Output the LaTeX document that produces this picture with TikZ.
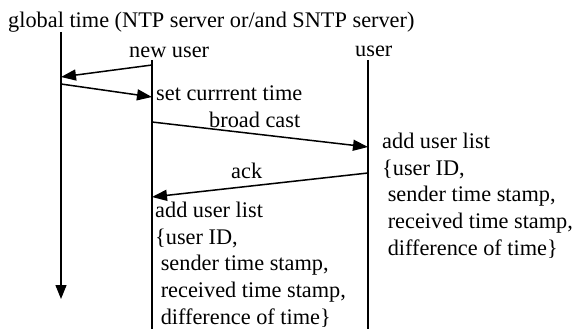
\documentclass[tikz,border=0pt]{standalone}
\usepackage{fontspec}
\setmainfont{Liberation Serif}
\usetikzlibrary{arrows.meta}

\tikzset{
	lbl/.style={inner sep=0pt, anchor=base west},
	block/.style={inner sep=0pt, anchor=north west, align=left},
	lifeline/.style={line width=1.2pt},
	msg/.style={line width=1.5pt, -{Triangle[length=15pt, width=11pt]}}
}

\begin{document}
\begin{tikzpicture}[x=1pt, y=-1pt, font=\fontsize{22.3}{26.6}\selectfont]
		\useasboundingbox (0,0) rectangle (576,329);
		% heads
		\node[lbl] (gt) at (8,28) {global time (NTP server or/and SNTP server)};
		\node[lbl] (nu) at (129,58) {new user};
		\node[lbl] (us) at (355,57) {user};
		% lifelines
		\coordinate (gtTop) at (61,32);
		\coordinate (gtEnd) at (61,299);
		\coordinate (nuTop) at (152,60);
		\coordinate (nuEnd) at (152,329);
		\coordinate (usTop) at (368,60);
		\coordinate (usEnd) at (368,329);
		\draw[lifeline, -{Triangle[length=14pt, width=11pt]}] (gtTop) -- (gtEnd);
		\draw[lifeline] (nuTop) -- (nuEnd);
		\draw[lifeline] (usTop) -- (usEnd);
		% messages
		\coordinate (m1a) at (152,65);
		\coordinate (m1b) at (61,77);
		\coordinate (m2a) at (61,84);
		\coordinate (m2b) at (152,97);
		\coordinate (m3a) at (152,122);
		\coordinate (m3b) at (368,147);
		\coordinate (m4a) at (368,173);
		\coordinate (m4b) at (152,197);
		\draw[msg] (m1a) -- (m1b);
		\draw[msg] (m2a) -- (m2b);
		\draw[msg] (m3a) -- (m3b);
		\draw[msg] (m4a) -- (m4b);
		% labels
		\node[lbl] (set) at (156,100) {set currrent time};
		\node[lbl] (bc) at (209,127) {broad cast};
		\node[lbl] (ack) at (231,178) {ack};
		\node[block] (listU) at (382,133) {add user list\\\{user ID,\\\ sender time stamp,\\\ received time stamp,\\\ difference of time\}};
		\node[block] (listN) at (155,202) {add user list\\\{user ID,\\\ sender time stamp,\\\ received time stamp,\\\ difference of time\}};
\end{tikzpicture}
\end{document}
